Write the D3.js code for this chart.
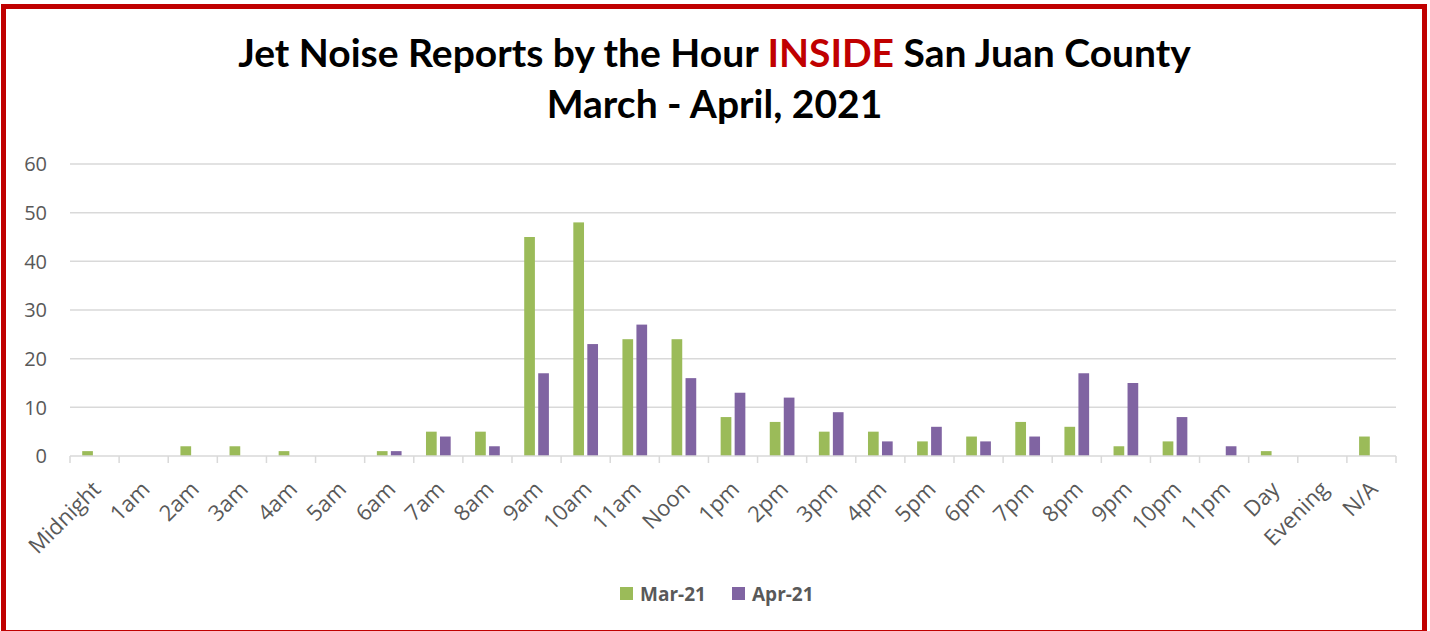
<!DOCTYPE html>
<html><head><meta charset="utf-8">
<script src="https://cdn.jsdelivr.net/npm/d3@7"></script>
<style>
html,body{margin:0;padding:0;background:#fff;}
svg{display:block;}
</style></head>
<body>
<script>
const categories = ["Midnight","1am","2am","3am","4am","5am","6am","7am","8am","9am","10am","11am","Noon","1pm","2pm","3pm","4pm","5pm","6pm","7pm","8pm","9pm","10pm","11pm","Day","Evening","N/A"];
const mar21 = [1,0,2,2,1,0,1,5,5,45,48,24,24,8,7,5,5,3,4,7,6,2,3,0,1,0,4];
const apr21 = [0,0,0,0,0,0,1,4,2,17,23,27,16,13,12,9,3,6,3,4,17,15,8,2,0,0,0];
const seriesNames = ["Mar-21","Apr-21"];
const colors = ["#9bbb59","#8064a2"];
const yTicks = [0,10,20,30,40,50,60];

const W = 1430, H = 631;
const titleFont = "Lato, 'Open Sans', sans-serif";
const font = "'Open Sans', Lato, sans-serif";
const svg = d3.select("body").append("svg").attr("width", W).attr("height", H);

// border
svg.append("rect").attr("x", 3.5).attr("y", 6.5).attr("width", 1421).attr("height", 626)
  .attr("fill", "#fff").attr("stroke", "#c00000").attr("stroke-width", 5);

// title
const t1 = svg.append("text").attr("x", 714.5).attr("y", 67).attr("text-anchor", "middle")
  .attr("font-family", titleFont).attr("font-weight", "bold").attr("font-size", 39).attr("fill", "#000");
t1.append("tspan").text("Jet Noise Reports by the Hour ");
t1.append("tspan").attr("fill", "#c00000").text("INSIDE");
t1.append("tspan").text(" San Juan County");
svg.append("text").attr("x", 714.5).attr("y", 118).attr("text-anchor", "middle")
  .attr("font-family", titleFont).attr("font-weight", "bold").attr("font-size", 39).attr("fill", "#000")
  .text("March - April, 2021");

const x = d3.scaleBand().domain(categories).range([70, 1396]).paddingInner(0).paddingOuter(0);
const y = d3.scaleLinear().domain([0, 60]).range([456, 164]);
const barW = 10.7, innerGap = 3.3;

// gridlines
svg.append("g").selectAll("line").data(yTicks.filter(d => d > 0)).join("line")
  .attr("x1", 70).attr("x2", 1396).attr("y1", d => y(d)).attr("y2", d => y(d))
  .attr("stroke", "#d9d9d9").attr("stroke-width", 1.5);

// y labels
svg.append("g").selectAll("text").data(yTicks).join("text")
  .attr("x", 47).attr("y", d => y(d)).attr("dy", "0.36em").attr("text-anchor", "end")
  .attr("font-family", font).attr("font-size", 20).attr("fill", "#595959").text(d => d);

// bars
const series = [mar21, apr21];
series.forEach((vals, si) => {
  svg.append("g").selectAll("rect").data(categories).join("rect")
    .attr("x", c => x(c) + x.bandwidth() / 2 - (barW + innerGap / 2) + si * (barW + innerGap))
    .attr("width", barW)
    .attr("y", (c, i) => y(vals[i]))
    .attr("height", (c, i) => y(0) - y(vals[i]))
    .attr("fill", colors[si]);
});

// x axis line & ticks
svg.append("line").attr("x1", 70).attr("x2", 1396).attr("y1", 456).attr("y2", 456)
  .attr("stroke", "#d9d9d9").attr("stroke-width", 1.5);
const tickPos = categories.map(c => x(c)).concat([x.range()[1]]);
svg.append("g").selectAll("line").data(tickPos).join("line")
  .attr("x1", d => d).attr("x2", d => d).attr("y1", 456).attr("y2", 463)
  .attr("stroke", "#d9d9d9").attr("stroke-width", 1.5);

// x labels
svg.append("g").selectAll("text").data(categories).join("text")
  .attr("transform", c => `translate(${x(c) + x.bandwidth() / 2 + 2},${485}) rotate(-45)`)
  .attr("text-anchor", "end").attr("dy", "0.36em")
  .attr("font-family", font).attr("font-size", 22).attr("fill", "#595959").text(c => c);

// legend
const legX = [620, 732];
seriesNames.forEach((n, i) => {
  svg.append("rect").attr("x", legX[i]).attr("y", 587).attr("width", 13).attr("height", 13).attr("fill", colors[i]);
  svg.append("text").attr("x", legX[i] + 20).attr("y", 594).attr("dy", "0.36em")
    .attr("font-family", font).attr("font-weight", "bold").attr("font-size", 19).attr("fill", "#595959").text(n);
});
</script>
</body></html>
